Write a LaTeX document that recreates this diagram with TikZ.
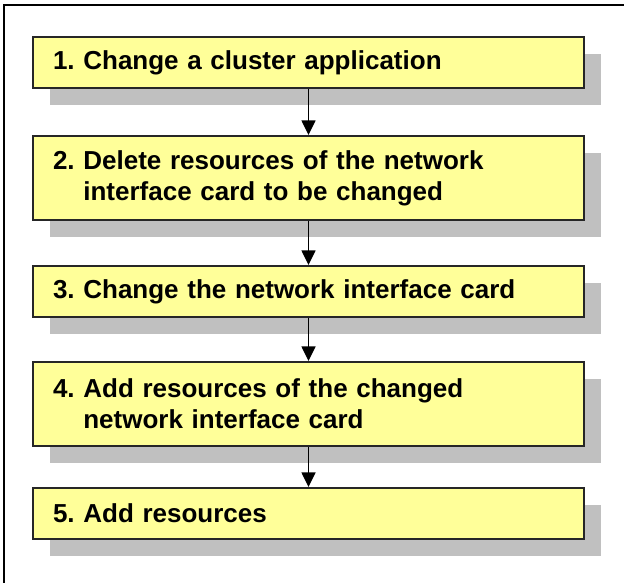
\documentclass[tikz,border=0pt]{standalone}
\usepackage{fontspec}
\setmainfont{Liberation Sans}
\usetikzlibrary{arrows.meta,shadows}
\definecolor{boxyellow}{HTML}{FFFF99}
\definecolor{shadowgray}{HTML}{C0C0C0}
\definecolor{boxline}{HTML}{262626}
\frenchspacing
\tikzset{
  stepbox/.style={draw=boxline, line width=1.5pt, fill=boxyellow,
    minimum width=551*0.75pt, minimum height=#1*0.75pt,
    text width=511*0.75pt, inner xsep=20*0.75pt, inner ysep=0pt, align=left,
    font=\fontsize{19.5}{23.25}\selectfont\bfseries\frenchspacing,
    drop shadow={shadow xshift=12.75pt, shadow yshift=-12.75pt, fill=shadowgray, opacity=1, draw=none}},
  flow/.style={line width=1.1pt, draw=black, -{Triangle[width=10.5pt,length=11pt]}},
  frame/.style={line width=1.5pt, draw=black}
}
\begin{document}
\begin{tikzpicture}[x=0.75pt,y=-0.75pt]
\useasboundingbox (0,0) rectangle (624,583);
\coordinate (fr) at (624,5);
\coordinate (fc) at (4,5);
\coordinate (fb) at (4,583);
\draw[frame] (fr) -- (fc) -- (fb);
\node[stepbox=51] (b1) at (308.5,62.5) {1. Change a cluster application};
\node[stepbox=84] (b2) at (308.5,178) {2. Delete resources of the network\\\phantom{2. }interface card to be changed};
\node[stepbox=51] (b3) at (308.5,291.5) {3. Change the network interface card};
\node[stepbox=84] (b4) at (308.5,404) {4. Add resources of the changed\\\phantom{4. }network interface card};
\node[stepbox=51] (b5) at (308.5,513.5) {5. Add resources};
\draw[flow] (b1) -- (b2);
\draw[flow] (b2) -- (b3);
\draw[flow] (b3) -- (b4);
\draw[flow] (b4) -- (b5);
\end{tikzpicture}
\end{document}
